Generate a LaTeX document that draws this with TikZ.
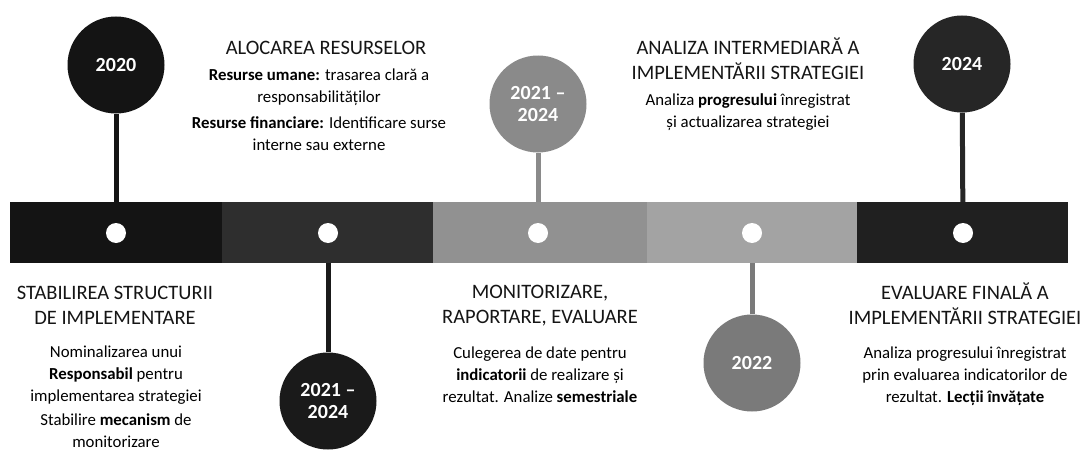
\documentclass[tikz,border=0pt]{standalone}
\usepackage{fontspec}
\setmainfont{Carlito}
\pgfdeclarelayer{bg}
\pgfsetlayers{bg,main}
\definecolor{segA}{HTML}{141414}
\definecolor{segB}{HTML}{2E2E2E}
\definecolor{segC}{HTML}{919191}
\definecolor{segD}{HTML}{A3A3A3}
\definecolor{segE}{HTML}{202020}
\definecolor{cA}{HTML}{141414}
\definecolor{cB}{HTML}{8A8A8A}
\definecolor{cC}{HTML}{262626}
\definecolor{cD}{HTML}{1A1A1A}
\definecolor{cE}{HTML}{7A7A7A}
\definecolor{titlecol}{HTML}{151515}
\newcommand\mytitlefont{\fontsize{20.5}{25}\selectfont}
\newcommand\mybodyfont{\fontsize{16.8}{22}\selectfont}
\newcommand\myyearfont{\fontsize{20}{22}\selectfont\bfseries}
\newcommand\tstrut{\rule{0pt}{17pt}}
\newcommand\bstrut{\rule{0pt}{14pt}}
\begin{document}
\begin{tikzpicture}[x=1pt,y=-1pt,
  titletext/.style={font=\mytitlefont, align=center, inner sep=0pt, anchor=north, text=titlecol},
  bodytext/.style={font=\mybodyfont, align=center, inner sep=0pt, anchor=north, text=black},
  yearcirc/.style={circle, minimum size=97pt, inner sep=0pt, font=\myyearfont, text=white, align=center},
  stick/.style={line width=5pt},
  dotmark/.style={circle, fill=white, minimum size=20pt, inner sep=0pt},
]
\useasboundingbox (0,0) rectangle (1084,452);
% dots on the band
\node[dotmark] (d1) at (116,233) {};
\node[dotmark] (d2) at (328,233) {};
\node[dotmark] (d3) at (538,233) {};
\node[dotmark] (d4) at (752,233) {};
\node[dotmark] (d5) at (963,233) {};
% year circles
\node[yearcirc, fill=cA] (y1) at (116,65) {2020};
\node[yearcirc, fill=cB] (y3) at (538,104) {2021 –\\2024};
\node[yearcirc, fill=cC] (y5) at (962,64) {2024};
\node[yearcirc, fill=cD] (y2) at (328,401) {2021 –\\2024};
\node[yearcirc, fill=cE] (y4) at (752,363) {2022};
\begin{pgfonlayer}{bg}
\draw[stick, draw=cA] (y1) -- (d1);
\draw[stick, draw=cB] (y3) -- (d3);
\draw[stick, draw=cC] (y5) -- (d5);
\draw[stick, draw=cD] (y2) -- (d2);
\draw[stick, draw=cE] (y4) -- (d4);
\fill[segA] (10,202) rectangle (222,263);
\fill[segB] (222,202) rectangle (433,263);
\fill[segC] (433,202) rectangle (647,263);
\fill[segD] (647,202) rectangle (857,263);
\fill[segE] (857,202) rectangle (1068,263);
\end{pgfonlayer}
% top texts
\node[titletext] (t2) at (326,37) {\tstrut ALOCAREA RESURSELOR};
\node[bodytext] (b2) at (319,66) {\bstrut\textbf{Resurse umane:} trasarea clară a\\responsabilităților\\[4pt]\textbf{Resurse financiare:} Identificare surse\\interne sau externe};
\node[titletext] (t4) at (748,37) {\tstrut ANALIZA INTERMEDIARĂ A\\IMPLEMENTĂRII STRATEGIEI};
\node[bodytext] (b4) at (748,91) {\bstrut Analiza \textbf{progresului} înregistrat\\și actualizarea strategiei};
% bottom texts
\node[titletext] (t1) at (115,282) {\tstrut STABILIREA STRUCTURII\\DE IMPLEMENTARE};
\node[bodytext] (b1) at (116,343) {\bstrut Nominalizarea unui\\\textbf{Responsabil} pentru\\implementarea strategiei\\[2pt]Stabilire \textbf{mecanism} de\\monitorizare};
\node[titletext] (t3) at (540,281) {\tstrut MONITORIZARE,\\RAPORTARE, EVALUARE};
\node[bodytext] (b3) at (540,344) {\bstrut Culegerea de date pentru\\\textbf{indicatorii} de realizare și\\rezultat. Analize \textbf{semestriale}};
\node[titletext] (t5) at (965,282) {\tstrut EVALUARE FINALĂ A\\IMPLEMENTĂRII STRATEGIEI};
\node[bodytext] (b5) at (965,344) {\bstrut Analiza progresului înregistrat\\prin evaluarea indicatorilor de\\rezultat. \textbf{Lecții învățate}};
\end{tikzpicture}
\end{document}
